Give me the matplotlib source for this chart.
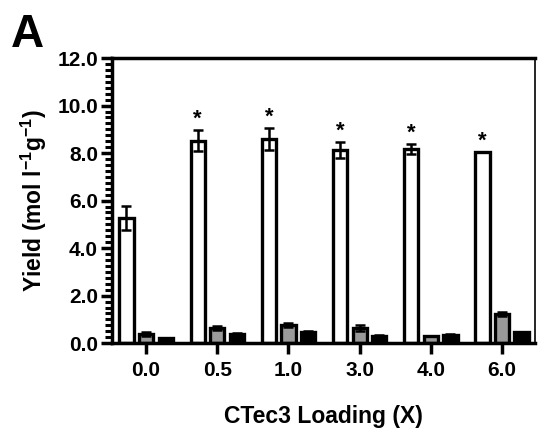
import numpy as np
import matplotlib
matplotlib.use("Agg")
import matplotlib.pyplot as plt
from matplotlib.ticker import MultipleLocator, FormatStrFormatter

# fonts: Arial-like bold everywhere, mathtext too (for the superscripts)
plt.rcParams["font.family"] = ["Liberation Sans", "DejaVu Sans"]
plt.rcParams["font.weight"] = "bold"
plt.rcParams["mathtext.fontset"] = "custom"
plt.rcParams["mathtext.rm"] = "Liberation Sans:bold"
plt.rcParams["mathtext.it"] = "Liberation Sans:bold"
plt.rcParams["mathtext.bf"] = "Liberation Sans:bold"
plt.rcParams["mathtext.default"] = "rm"

# ----------------------------------------------------
# data
# ----------------------------------------------------
loadings = ["0.0", "0.5", "1.0", "3.0", "4.0", "6.0"]

white_mean = [5.26, 8.52, 8.59, 8.13, 8.18, 8.04]
white_err = [0.50, 0.45, 0.45, 0.33, 0.20, 0.0]

gray_mean = [0.38, 0.65, 0.78, 0.62, 0.32, 1.22]
gray_err = [0.08, 0.08, 0.08, 0.13, 0.0, 0.08]

black_mean = [0.20, 0.38, 0.45, 0.32, 0.33, 0.45]
black_err = [0.03, 0.04, 0.04, 0.04, 0.04, 0.03]

significant = [False, True, True, True, True, True]

# ----------------------------------------------------
# plot
# ----------------------------------------------------
fig = plt.figure(figsize=(5.38, 4.30), dpi=100)
ax = fig.add_axes([0.208, 0.202, 0.786, 0.663])

x = np.arange(len(loadings))
width = 0.2
offset = 0.275

series = [
    (white_mean, white_err, "white", -offset),
    (gray_mean, gray_err, "#9a9a9a", 0.0),
    (black_mean, black_err, "black", offset),
]
for mean, err, color, dx in series:
    ax.bar(x + dx, mean, width, color=color, edgecolor="black",
           linewidth=2.4, zorder=2)
    ax.errorbar(x + dx, mean, yerr=err, fmt="none", ecolor="black",
                elinewidth=1.8, capsize=3.5, capthick=1.8, zorder=3)

# significance stars over the white bars
for i, flag in enumerate(significant):
    if flag:
        ax.text(x[i] - offset, white_mean[i] + white_err[i] + 0.02, "*",
                ha="center", va="bottom", fontsize=16, fontweight="bold")

# ----------------------------------------------------
# styling
# ----------------------------------------------------
ax.set_xlim(-0.48, 5.46)
ax.set_ylim(0, 12)
ax.set_xticks(x)
ax.set_xticklabels(loadings)
ax.yaxis.set_major_locator(MultipleLocator(2))
ax.yaxis.set_minor_locator(MultipleLocator(0.25))
ax.yaxis.set_major_formatter(FormatStrFormatter("%.1f"))

ax.tick_params(axis="both", which="major", length=8, width=2.5,
               labelsize=15, pad=2)
ax.tick_params(axis="y", which="minor", length=5, width=2.2)
ax.tick_params(axis="x", pad=5)

for side in ["left", "bottom", "top"]:
    ax.spines[side].set_linewidth(2.5)
ax.spines["right"].set_linewidth(1.2)

ax.set_xlabel("CTec3 Loading (X)", fontsize=16.5, fontweight="bold", labelpad=18)
ax.set_ylabel("Yield (mol l$^{-1}$g$^{-1}$)", fontsize=16.5, fontweight="bold",
              labelpad=6)

fig.text(0.02, 0.89, "A", fontsize=33, fontweight="bold")

fig.savefig("out.png", dpi=100)
